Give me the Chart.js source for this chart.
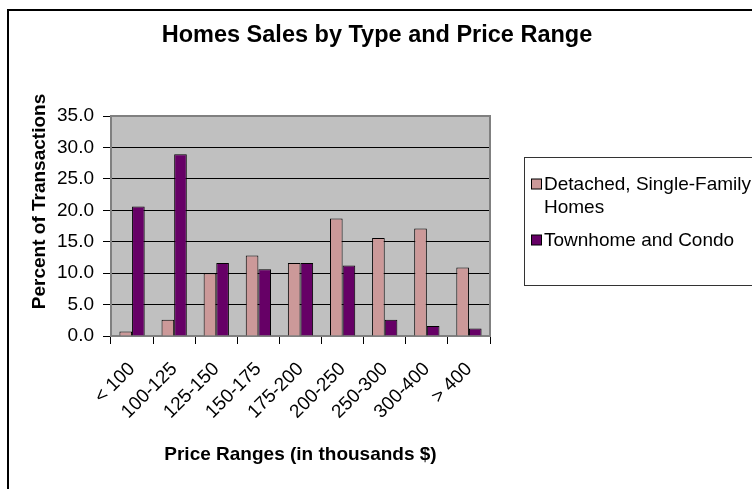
<!DOCTYPE html>
<html>
<head>
<meta charset="utf-8">
<script src="https://cdn.jsdelivr.net/npm/chart.js@4.4.1/dist/chart.umd.min.js"></script>
<style>
  html, body { margin: 0; padding: 0; background: #fff; overflow: hidden; }
  #wrap { position: relative; width: 752px; height: 489px; }
</style>
</head>
<body>
<div id="wrap"><canvas id="chart"></canvas></div>
<script>
const priceRanges = ["< 100", "100-125", "125-150", "150-175", "175-200", "200-250", "250-300", "300-400", "> 400"];
const detachedPct = [0.7, 2.6, 10.0, 12.8, 11.6, 18.7, 15.6, 17.1, 10.9];
const townhomePct = [20.6, 28.9, 11.6, 10.6, 11.6, 11.2, 2.6, 1.6, 1.2];
const seriesNames = ["Detached, Single-Family Homes", "Townhome and Condo"];
const legendLines = [["Detached, Single-Family", "Homes"], ["Townhome and Condo"]];
const seriesColors = ["#cc9999", "#660066"];

const FONT = "'Liberation Sans', Arial, sans-serif";

// background, plot frame, title, y title, legend and outer border
const decor = {
  id: "decor",
  beforeDraw(chart) {
    const { ctx, chartArea: a } = chart;
    ctx.save();
    ctx.fillStyle = "#fff";
    ctx.fillRect(0, 0, chart.width, chart.height);
    ctx.fillStyle = "#c0c0c0";
    ctx.fillRect(a.left, a.top, a.right - a.left, a.bottom - a.top);
    ctx.restore();
  },
  beforeDatasetsDraw(chart) {
    const { ctx, chartArea: a } = chart;
    ctx.save();
    ctx.strokeStyle = "#808080";
    ctx.lineWidth = 2;
    ctx.strokeRect(a.left, a.top, a.right - a.left, a.bottom - a.top);
    ctx.restore();
  },
  afterDraw(chart) {
    const ctx = chart.ctx;
    ctx.save();
    ctx.fillStyle = "#000";

    // title
    ctx.font = "bold 23.5px " + FONT;
    ctx.textAlign = "center";
    ctx.textBaseline = "middle";
    ctx.fillText("Homes Sales by Type and Price Range", 377, 36);

    // y axis title
    ctx.save();
    ctx.translate(40, 201.5);
    ctx.rotate(-Math.PI / 2);
    ctx.font = "bold 19px " + FONT;
    ctx.fillText("Percent of Transactions", 0, 0);
    ctx.restore();

    // legend
    ctx.strokeStyle = "#333";
    ctx.lineWidth = 1;
    ctx.strokeRect(524.5, 157.5, 300, 128);
    ctx.font = "19px " + FONT;
    ctx.textAlign = "left";
    const rows = [184, 240];
    chart.data.datasets.forEach((ds, i) => {
      const y = rows[i];
      ctx.fillStyle = ds.backgroundColor;
      ctx.fillRect(531.5, y - 5, 10, 10);
      ctx.strokeStyle = "#000";
      ctx.strokeRect(531.5, y - 5, 10, 10);
      ctx.fillStyle = "#000";
      legendLines[i].forEach((line, j) => {
        ctx.fillText(line, 544, y + 1 + j * 23);
      });
    });

    // outer chart border (cropped on right and bottom)
    ctx.fillStyle = "#000";
    ctx.fillRect(7, 9, 2, chart.height);
    ctx.fillRect(7, 9, chart.width, 2);
    ctx.restore();
  }
};

new Chart(document.getElementById("chart"), {
  type: "bar",
  data: {
    labels: priceRanges,
    datasets: [
      {
        label: seriesNames[0],
        data: detachedPct,
        backgroundColor: seriesColors[0],
        borderColor: "#000",
        borderWidth: 1
      },
      {
        label: seriesNames[1],
        data: townhomePct,
        backgroundColor: seriesColors[1],
        borderColor: "#000",
        borderWidth: 1
      }
    ]
  },
  options: {
    responsive: true,
    maintainAspectRatio: false,
    animation: false,
    devicePixelRatio: 1,
    categoryPercentage: 0.6,
    barPercentage: 1.0,
    layout: { padding: { left: 8, right: 262, top: 116, bottom: 0 } },
    plugins: {
      legend: { display: false },
      tooltip: { enabled: false },
      title: { display: false }
    },
    scales: {
      x: {
        afterFit(scale) { scale.height = 153; },
        grid: {
          drawOnChartArea: false,
          drawTicks: true,
          tickLength: 8,
          tickColor: "#000",
          offset: true
        },
        border: { color: "#808080", width: 2 },
        ticks: {
          color: "#000",
          font: { family: FONT, size: 19 },
          minRotation: 45,
          maxRotation: 45,
          autoSkip: false,
          padding: 14
        },
        title: {
          display: true,
          text: "Price Ranges (in thousands $)",
          color: "#000",
          font: { family: FONT, size: 19, weight: "bold" },
          padding: { top: 0, bottom: 23 }
        }
      },
      y: {
        min: 0,
        max: 35,
        afterFit(scale) { scale.width = 103; },
        grid: {
          color: "#000",
          lineWidth: 1,
          tickLength: 8,
          tickColor: "#000"
        },
        border: { color: "#808080", width: 2 },
        ticks: {
          stepSize: 5,
          color: "#000",
          font: { family: FONT, size: 19 },
          padding: 9,
          callback: (v) => Number(v).toFixed(1)
        }
      }
    }
  },
  plugins: [decor]
});
</script>
</body>
</html>
